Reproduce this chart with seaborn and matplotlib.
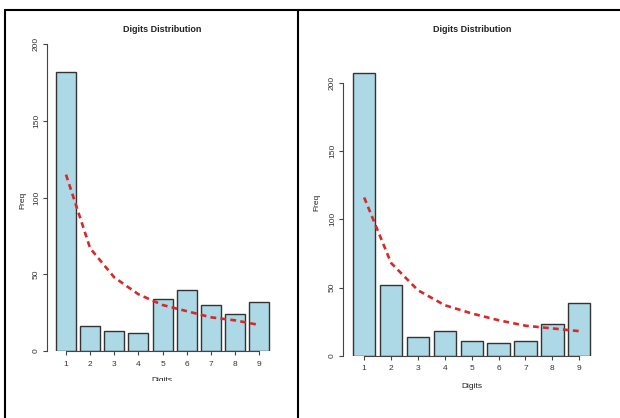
import numpy as np
import pandas as pd
import matplotlib
matplotlib.use("Agg")
import matplotlib.pyplot as plt
from matplotlib.lines import Line2D
from matplotlib.patches import Rectangle
import seaborn as sns

# Data
digits = ["1", "2", "3", "4", "5", "6", "7", "8", "9"]
freq_left = [182, 16, 13, 12, 34, 40, 30, 24, 32]
freq_right = [207, 52, 14, 18, 11, 9, 11, 23, 39]
expected_left = [115, 67, 48, 37, 30, 26, 22, 20, 17]
expected_right = [116, 68, 48, 37, 31, 26, 22, 20, 18]
y_ticks = [0, 50, 100, 150, 200]

W, H = 620, 418
sns.set_theme(style="white")
plt.rcParams["font.family"] = ["Liberation Sans", "DejaVu Sans"]

fig = plt.figure(figsize=(W / 100, H / 100), dpi=100)
fig.patch.set_facecolor("white")


def px_rect(l, t, r, b):
    return [l / W, 1 - b / H, (r - l) / W, (b - t) / H]


def fig_text(x, y, s, **kw):
    return fig.text(x / W, 1 - y / H, s, ha="center", va="center", color="#222222", **kw)


def draw_panel(rect, freq, expected, ytop):
    ax = fig.add_axes(rect)
    df = pd.DataFrame({"digit": digits, "freq": freq, "expected": expected})
    sns.barplot(data=df, x="digit", y="freq", order=digits, color="#ADD8E6",
                saturation=1, width=0.83, edgecolor="#333333", linewidth=1.0, ax=ax)
    sns.lineplot(x=np.arange(len(digits)), y=df["expected"], ax=ax, color="#d42a2a",
                 linewidth=1.9, dashes=(2.2, 1.6), legend=False)
    ax.set_xlim(-0.788, 8.6)
    ax.set_ylim(0, ytop)
    ax.set_facecolor("none")
    ax.set_xlabel("")
    ax.set_ylabel("")
    ax.set_yticks(y_ticks)
    ax.set_yticklabels([str(v) for v in y_ticks], rotation=90, va="center")
    ax.set_xticks(range(len(digits)))
    ax.set_xticklabels(digits)
    for side in ["top", "right"]:
        ax.spines[side].set_visible(False)
    ax.spines["left"].set_bounds(0, 200)
    ax.spines["bottom"].set_bounds(0, 8)
    for side in ["left", "bottom"]:
        ax.spines[side].set_color("#444444")
        ax.spines[side].set_linewidth(0.8)
    ax.tick_params(axis="both", which="both", direction="out", length=3, width=0.8,
                   color="#444444", labelsize=6, labelcolor="#333333",
                   left=True, bottom=True)
    ax.tick_params(axis="x", pad=4)
    ax.tick_params(axis="y", pad=2)
    return ax


# Left panel
draw_panel(px_rect(47, 40, 273.5, 351), freq_left, expected_left, 202.8)
fig_text(162, 29, "Digits Distribution", fontsize=6.5, fontweight="bold")
fig_text(23, 200, "Freq", fontsize=6, rotation=90)
fig_text(162, 380, "Digits", fontsize=6)
# the left screenshot is cropped through its x label
fig.add_artist(Rectangle((40 / W, 1 - 395 / H), 250 / W, 14 / H, facecolor="white",
                         edgecolor="none", transform=fig.transFigure, zorder=5))

# Right panel
draw_panel(px_rect(343, 70, 595.4, 355.7), freq_right, expected_right, 209.5)
fig_text(472, 29, "Digits Distribution", fontsize=6.5, fontweight="bold")
fig_text(317, 202, "Freq", fontsize=6, rotation=90)
fig_text(472, 386, "Digits", fontsize=6)

# Frame lines around the panels
lw = 1.5
fig.add_artist(Line2D([4.8 / W, 1], [1 - 10 / H, 1 - 10 / H], color="black", lw=lw,
                      transform=fig.transFigure))
fig.add_artist(Line2D([4.8 / W, 4.8 / W], [0, 1 - 10 / H], color="black", lw=lw,
                      transform=fig.transFigure))
fig.add_artist(Line2D([297.7 / W, 297.7 / W], [0, 1 - 10 / H], color="black", lw=lw,
                      transform=fig.transFigure))

fig.savefig("out.png", dpi=100, facecolor="white")
